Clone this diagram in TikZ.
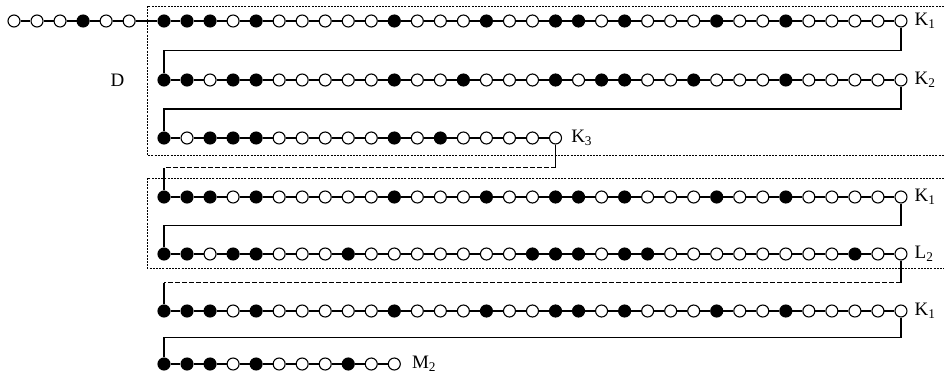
\documentclass[tikz,border=0pt]{standalone}
\usepackage{fontspec}
\setmainfont{Liberation Serif}
\usetikzlibrary{positioning}
\tikzset{
  bead/.style={circle, draw, line width=1.1pt, minimum size=12pt, inner sep=0pt},
  link/.style={line width=1.1pt},
  gap/.style={line width=1.1pt, dash pattern=on 4.5pt off 2.5pt},
  frame/.style={line width=0.9pt, dash pattern=on 2pt off 1.2pt},
  tag/.style={font=\fontsize{19}{22}\selectfont, inner sep=0pt},
}
% one row of beads: name, first x, y, pattern (1 = full, 0 = empty)
\newcommand{\beadrow}[4]{%
  \foreach \b [count=\i] in #4 {
    \ifnum\b=1 \def\shade{black}\else\def\shade{white}\fi
    \node[bead, fill=\shade] (#1-\i) at ({#2+23.03*(\i-1)}, #3) {};
    \ifnum\i>1
      \pgfmathtruncatemacro{\prev}{\i-1}
      \draw[link] (#1-\prev) -- (#1-\i);
    \fi
  }%
}
\def\lead{0,0,0,1,0,0}
\def\kone{1,1,1,0,1,0,0,0,0,0,1,0,0,0,1,0,0,1,1,0,1,0,0,0,1,0,0,1,0,0,0,0,0}
\def\ktwo{1,1,0,1,1,0,0,0,0,0,1,0,0,1,0,0,0,1,0,1,1,0,0,1,0,0,0,1,0,0,0,0,0}
\def\kthree{1,0,1,1,1,0,0,0,0,0,1,0,1,0,0,0,0,0}
\def\ltwo{1,1,0,1,1,0,0,0,1,0,0,0,0,0,0,0,1,1,1,0,1,1,0,0,0,0,0,0,0,0,1,0,0}
\def\mtwo{1,1,1,0,1,0,0,0,1,0,0}

\begin{document}
\begin{tikzpicture}[x=1pt, y=-1pt]
  \useasboundingbox (0,0) rectangle (944,383);

  % dotted frames
  \draw[frame] (944,6) -- (147,6) -- (147,155) -- (944,155);
  \draw[frame] (944,178) -- (147,178) -- (147,268) -- (944,268);

  % bead rows
  \beadrow{p}{14}{21}{\lead}
  \beadrow{a}{164}{21}{\kone}
  \beadrow{b}{164}{80}{\ktwo}
  \beadrow{c}{164}{138}{\kthree}
  \beadrow{d}{164}{197}{\kone}
  \beadrow{e}{164}{254}{\ltwo}
  \beadrow{f}{164}{311}{\kone}
  \beadrow{g}{164}{364}{\mtwo}

  % turns between rows
  \draw[link] (p-6) -- (a-1);
  \draw[link] (a-33) -- ++(0,29.5) -| (b-1);
  \draw[link] (b-33) -- ++(0,29) -| (c-1);
  \draw[link] (c-18) -- ++(0,29.5) coordinate (cd1);
  \draw[gap] (cd1) -- (cd1 -| d-1) coordinate (cd2);
  \draw[link] (cd2) -- (d-1);
  \draw[link] (d-33) -- ++(0,28.5) -| (e-1);
  \draw[link] (e-33) -- ++(0,28.5) coordinate (ef1);
  \draw[gap] (ef1) -- (ef1 -| f-1) coordinate (ef2);
  \draw[link] (ef2) -- (f-1);
  \draw[link] (f-33) -- ++(0,26.5) -| (g-1);

  % labels
  \node[tag, left=33pt of b-1] (dlab) {D};
  \node[tag, right=7pt of a-33] (k1a) {K\textsubscript{1}};
  \node[tag, right=7pt of b-33] (k2) {K\textsubscript{2}};
  \node[tag, right=9pt of c-18] (k3) {K\textsubscript{3}};
  \node[tag, right=7pt of d-33] (k1b) {K\textsubscript{1}};
  \node[tag, right=7pt of e-33] (l2) {L\textsubscript{2}};
  \node[tag, right=7pt of f-33] (k1c) {K\textsubscript{1}};
  \node[tag, right=11pt of g-11] (m2) {M\textsubscript{2}};
\end{tikzpicture}
\end{document}
